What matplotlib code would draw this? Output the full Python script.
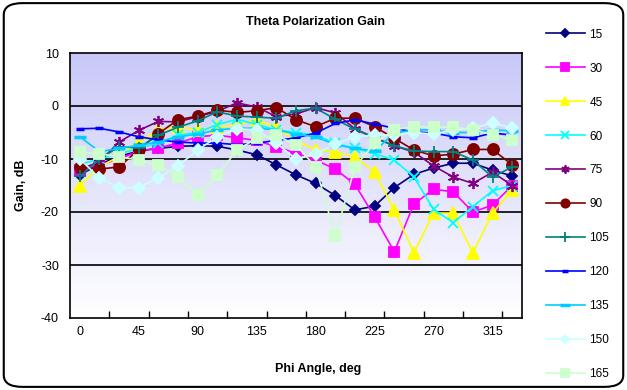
import matplotlib
matplotlib.use('Agg')
import matplotlib.pyplot as plt
import numpy as np
from matplotlib.patches import FancyBboxPatch

plt.rcParams['font.family'] = ['Liberation Sans', 'DejaVu Sans']
plt.rcParams['axes.unicode_minus'] = False

# phi angles (deg) and theta cuts
phi = [0, 15, 30, 45, 60, 75, 90, 105, 120, 135, 150, 165,
       180, 195, 210, 225, 240, 255, 270, 285, 300, 315, 330]
theta_labels = ['15', '30', '45', '60', '75', '90', '105', '120', '135', '150', '165']

gain_15 = [-13, -11, -9.5, -8.5, -8, -7.6, -7.5, -7.6, -8.3, -9.2, -11.1, -13,
           -14.6, -16.9, -19.6, -18.9, -15.4, -12.9, -11.7, -10.8, -10.8, -12.1, -13.2]
gain_30 = [-12, -11.1, -10, -8.5, -7.9, -7, -5.8, -5.5, -6, -6.5, -7.7, -8.9,
           -10.2, -11.9, -14.8, -20.9, -27.5, -18.5, -15.7, -16.2, -20, -18.7, -15]
gain_45 = [-15, -11.5, -9.5, -6.8, -4.5, -3.9, -4.5, -4, -3.5, -2.6, -4, -6.5,
           -8.3, -8.7, -9.6, -12.5, -19.6, -27.7, -20.2, -20.2, -27.7, -20.2, -15.8]
gain_60 = [-11, -10, -9, -8, -7, -5.5, -5, -3.5, -2.5, -3.5, -4.5, -5,
           -5.5, -7, -8, -9, -10.2, -13.4, -19.5, -22, -19, -16, -15]
gain_75 = [-12, -10.5, -6.8, -4.6, -2.9, -3, -2, -1, 0.6, -0.2, -2, -1.5,
           -0.3, -1.3, -4.3, -6, -7.5, -8.7, -11.3, -13.4, -14.6, -12.5, -15]
gain_90 = [-11.5, -11.9, -11.5, -8.2, -5.2, -2.6, -1.9, -0.8, -1.2, -0.9, -0.3, -2.6,
           -3.9, -2.3, -2.3, -3.9, -6.1, -8.3, -9.4, -9.1, -8.2, -8.2, -11.1]
gain_105 = [-13.3, -10, -7.7, -7.9, -5.5, -4, -2.8, -1.1, -1.9, -2.1, -2.3, -0.9,
            -0.4, -2.5, -4.4, -6, -7.5, -8.5, -8.6, -8.6, -10.2, -13.4, -11.5]
gain_120 = [-4.3, -4.2, -4.9, -5.8, -6.4, -6.8, -7, -7, -7.3, -7, -6.5, -6,
            -5.1, -3.3, -2.6, -3.4, -4.2, -4.9, -5.1, -5.8, -6, -5.1, -5.5]
gain_135 = [-5.8, -8.6, -8, -7.4, -6.8, -5.8, -5.3, -4.5, -4.2, -4.2, -4.5, -5.3,
            -5.8, -7.3, -8, -8.5, -5.1, -4.5, -4.5, -5, -5, -4.5, -4.7]
gain_150 = [-10, -13.6, -15.4, -15.4, -13.6, -11.3, -8.3, -5.8, -4.3, -4.5, -7, -10,
            -9, -7.2, -5.8, -5.5, -5.5, -5, -5.3, -4.5, -4.2, -3.2, -4.2]
gain_165 = [-8.7, -9, -9.6, -10.2, -11.2, -13.4, -16.8, -13.1, -8.3, -6.1, -5.5, -7.4,
            -11.5, -24.5, -11.5, -7, -4.5, -3.9, -4, -4, -4.5, -5.4, -6.4]

gains = [gain_15, gain_30, gain_45, gain_60, gain_75, gain_90,
         gain_105, gain_120, gain_135, gain_150, gain_165]

# Excel-like series styles: colour, marker, marker size
styles = [
    ('#000080', 'D', 5),
    ('#FF00FF', 's', 7),
    ('#FFFF00', '^', 8),
    ('#00FFFF', 'x', 7),
    ('#800080', (6, 2, 0), 8),
    ('#800000', 'o', 8),
    ('#008080', '+', 9),
    ('#0000FF', '_', 6),
    ('#00CCFF', '_', 9),
    ('#CCFFFF', 'D', 6),
    ('#CCFFCC', 's', 7),
]

fig = plt.figure(figsize=(6.27, 3.9), dpi=100)

# rounded chart border
border = FancyBboxPatch((0.006, 0.008), 0.988, 0.984,
                        boxstyle='round,pad=0,rounding_size=0.03',
                        transform=fig.transFigure, fill=False,
                        edgecolor='black', linewidth=1.5)
fig.patches.append(border)

ax = fig.add_axes([70 / 627, 1 - 318 / 390, 452 / 627, 265 / 390])

# light purple to white gradient behind the plot area
grad = np.linspace(0, 1, 256).reshape(-1, 1)
top = np.array([200, 200, 248]) / 255
bot = np.array([255, 255, 255]) / 255
img = top[None, None, :] * (1 - grad[..., None]) + bot[None, None, :] * grad[..., None]
ax.imshow(img, extent=[-7.5, 337.5, -40, 10], aspect='auto', zorder=0)

for yv in [0, -10, -20, -30]:
    ax.axhline(yv, color='black', linewidth=1.2, zorder=1)

handles = []
for lab, g, (c, m, ms) in zip(theta_labels, gains, styles):
    mew = 1.3
    if m == '_':
        mew = 2.5
    h, = ax.plot(phi, g, color=c, marker=m, markersize=ms, markeredgewidth=mew,
                 markeredgecolor=c, markerfacecolor=c, linewidth=1.2,
                 label=lab, zorder=3)
    handles.append(h)

ax.set_xlim(-7.5, 337.5)
ax.set_ylim(-40, 10)
ax.set_xticks([0, 45, 90, 135, 180, 225, 270, 315])
ax.set_xticks(np.arange(22.5, 337.5, 30), minor=True)
ax.tick_params(axis='x', which='major', length=0, labelsize=9, pad=6)
ax.tick_params(axis='x', which='minor', direction='in', length=5, width=1)
ax.set_yticks([10, 0, -10, -20, -30, -40])
ax.tick_params(axis='y', length=0, labelsize=9, pad=8)
for s in ax.spines.values():
    s.set_linewidth(1.2)

fig.text(315 / 627, 1 - 22 / 390, 'Theta Polarization Gain', ha='center', va='center',
         fontsize=9, fontweight='bold')
ax.set_xlabel('Phi Angle, deg', fontsize=9, fontweight='bold')
ax.xaxis.set_label_coords(0.55, -0.17)
ax.set_ylabel('Gain, dB', fontsize=9, fontweight='bold', labelpad=10)

fig.legend(handles=handles, loc='upper left', bbox_to_anchor=(535 / 627, 1 - 18 / 390),
           frameon=False, fontsize=8.5, handlelength=3.3, labelspacing=1.86,
           handletextpad=0.4, markerscale=0.75)

fig.savefig('out.png', dpi=100)
